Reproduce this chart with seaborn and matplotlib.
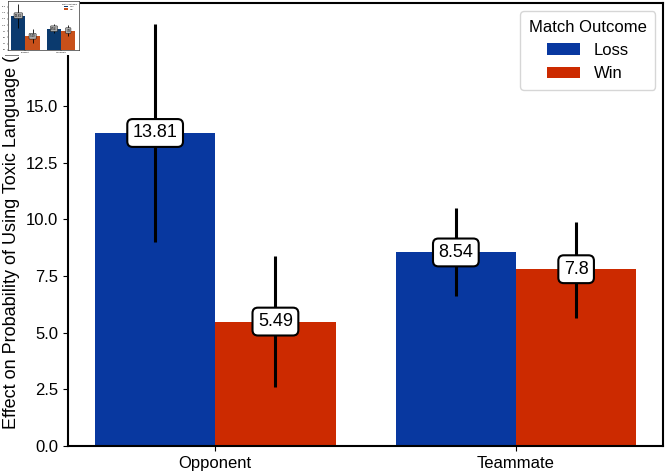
import matplotlib
matplotlib.use("Agg")
import matplotlib.pyplot as plt
import seaborn as sns
import pandas as pd

# -------------------------
# Data
# -------------------------
targets = ["Opponent", "Opponent", "Teammate", "Teammate"]
outcomes = ["Loss", "Win", "Loss", "Win"]
effects = [13.81, 5.49, 8.54, 7.80]
ci_low = [9.02, 2.61, 6.61, 5.64]
ci_high = [18.62, 8.40, 10.48, 9.87]
label_text = ["13.81", "5.49", "8.54", "7.8"]

df = pd.DataFrame({"target": targets, "outcome": outcomes, "effect": effects,
                   "low": ci_low, "high": ci_high, "label": label_text})

palette = {"Loss": "#0838a0", "Win": "#cc2a00"}
thumb_palette = {"Loss": "#0b3a6e", "Win": "#c8501a"}

sns.set_style("ticks")
plt.rcParams["font.family"] = ["Liberation Sans", "DejaVu Sans"]
plt.rcParams.update({"text.color": "black", "axes.labelcolor": "black",
                     "xtick.color": "black", "ytick.color": "black",
                     "axes.edgecolor": "black"})

fig = plt.figure(figsize=(6.66, 4.75), dpi=100)
ax = fig.add_axes([0.102, 0.061, 0.894, 0.933])


def draw(ax, pal, lw, fs, box_fc, box_lw):
    sns.barplot(data=df, x="target", y="effect", hue="outcome",
                hue_order=["Loss", "Win"], palette=pal, saturation=1,
                errorbar=None, linewidth=0, ax=ax)
    for cont, level in zip(ax.containers, ["Loss", "Win"]):
        sub = df[df["outcome"] == level]
        for bar, (_, row) in zip(cont, sub.iterrows()):
            xc = bar.get_x() + bar.get_width() / 2
            ax.errorbar(xc, row["effect"],
                        yerr=[[row["effect"] - row["low"]], [row["high"] - row["effect"]]],
                        fmt="none", ecolor="black", elinewidth=lw, capsize=0, zorder=3)
            ax.text(xc, row["effect"], row["label"], ha="center", va="center",
                    fontsize=fs, zorder=4,
                    bbox=dict(boxstyle="round,pad=0.3", fc=box_fc, ec="black", lw=box_lw))


draw(ax, palette, 2.2, 13, "white", 1.5)
ax.set_xlabel("")
ax.set_ylabel("Effect on Probability of Using Toxic Language (p.p.)", fontsize=13)
ax.tick_params(labelsize=12)
for s in ax.spines.values():
    s.set_linewidth(1.5)
ax.legend(title="Match Outcome", loc="upper right", fontsize=12, title_fontsize=12,
          handlelength=2.0, borderpad=0.5)

# -------------------------
# Thumbnail in the corner
# -------------------------
bg = fig.add_axes([0.0, 0.884, 0.12, 0.116])
bg.set_facecolor("white")
bg.set_xticks([])
bg.set_yticks([])
for s in bg.spines.values():
    s.set_visible(False)
bg.set_zorder(5)

th = fig.add_axes([0.012, 0.895, 0.106, 0.102])
th.set_zorder(6)
draw(th, thumb_palette, 0.6, 2, "#aaaaaa", 0.3)
th.set_xlabel("")
th.set_ylabel("")
th.tick_params(labelsize=1.5, length=1, width=0.3, pad=0.5)
for s in th.spines.values():
    s.set_linewidth(0.4)
th.legend(title="Match Outcome", loc="upper right", fontsize=1.5, title_fontsize=1.5,
          frameon=False)

fig.savefig("out.png", dpi=100)
